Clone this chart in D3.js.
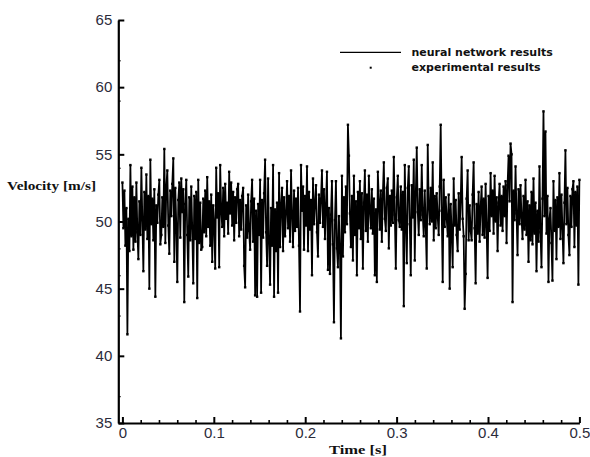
<!DOCTYPE html>
<html><head><meta charset="utf-8">
<script src="https://cdn.jsdelivr.net/npm/d3@7"></script>
<style>html,body{margin:0;padding:0;background:#fff;} svg{display:block;}</style>
</head><body>
<svg id="c" width="590" height="457"></svg>
<script>
// Velocity samples [m/s], evenly spaced over 0..0.5 s
const velocity = [
52.9,49.5,52.3,48.2,51.0,41.6,50.2,47.8,54.2,48.9,
52.6,47.9,51.8,48.5,52.9,49.2,47.2,51.5,49.0,54.0,
50.1,46.3,52.2,49.4,53.5,48.7,51.9,45.0,54.6,49.8,
51.7,48.6,52.4,44.4,51.2,49.9,52.0,53.1,48.3,49.0,
51.8,49.6,55.4,48.4,52.6,53.8,49.7,47.6,52.3,50.4,
52.8,54.7,47.0,52.5,49.8,45.5,51.6,52.9,48.8,53.2,
50.7,52.4,44.0,51.3,53.1,49.0,45.9,51.8,48.6,52.6,
49.5,45.4,51.9,48.7,52.2,44.3,53.1,48.4,51.4,47.9,
48.1,51.7,49.2,52.3,48.9,53.3,49.6,51.5,48.2,52.0,
47.0,51.2,49.8,46.5,54.0,50.3,52.1,46.6,54.2,50.9,
49.6,52.5,48.9,52.8,50.2,51.4,49.1,53.7,50.6,52.9,
49.7,52.2,48.6,51.8,49.9,52.4,52.8,48.9,51.6,49.4,
51.9,52.5,46.7,45.1,51.2,48.8,52.0,49.3,47.9,51.5,
53.1,48.5,51.7,44.5,50.8,44.4,51.3,49.0,53.1,44.7,
51.6,48.8,52.1,54.6,49.2,46.7,53.2,48.4,45.3,51.0,
48.2,54.2,44.4,50.9,47.8,51.4,44.7,53.6,48.1,51.2,
52.5,47.8,51.8,48.9,50.6,53.0,49.5,51.9,48.5,53.8,
50.4,48.1,52.3,49.3,51.7,49.6,52.5,48.2,43.3,54.2,
50.8,52.6,47.9,51.9,49.7,54.1,47.8,52.2,49.4,51.6,
46.0,53.2,49.8,51.4,52.7,49.2,47.4,52.0,49.9,51.7,
53.8,49.6,52.4,48.7,51.3,53.7,46.4,51.0,46.1,50.5,
53.0,48.3,42.5,50.1,53.0,48.0,46.6,50.4,47.9,41.3,
53.4,47.4,51.8,49.2,52.6,49.8,57.2,54.9,50.6,48.1,
51.9,47.1,53.4,49.0,51.5,46.0,52.2,49.5,53.0,48.7,
52.1,46.5,51.4,53.8,49.3,52.0,48.5,53.4,50.8,49.5,
52.4,49.1,51.7,46.0,50.9,45.5,53.7,51.6,49.4,52.3,
48.5,52.0,54.4,50.2,49.3,52.5,53.2,48.0,51.9,49.7,
52.3,49.9,54.8,50.5,46.5,51.8,53.4,50.1,49.6,52.6,
49.4,52.2,43.7,54.2,50.0,46.9,52.5,54.1,49.8,46.0,
52.7,50.3,54.6,47.1,52.0,55.5,50.7,49.0,52.4,50.1,
54.2,50.5,48.9,52.3,49.6,46.5,55.7,51.2,49.8,52.5,
50.0,54.4,48.6,51.9,49.5,52.1,50.3,49.0,52.6,57.2,
50.8,45.5,53.1,49.6,51.8,50.2,48.9,52.0,45.0,51.3,
49.2,46.6,53.2,49.7,51.6,49.0,47.8,52.1,49.4,51.5,
54.8,50.2,48.9,43.5,46.1,51.7,53.8,48.6,51.2,49.3,
48.6,52.0,54.4,49.5,45.4,51.3,49.1,52.2,48.5,51.1,
52.6,49.0,51.7,48.8,52.8,49.6,45.8,51.9,49.3,53.6,
50.4,52.3,49.1,53.4,50.0,51.8,47.8,51.4,52.8,49.7,
51.9,49.3,52.6,50.4,53.0,48.4,52.7,54.9,51.5,55.8,
55.0,44.0,52.3,50.1,54.1,50.6,47.5,52.4,49.8,52.7,
50.3,48.7,51.9,49.4,53.1,49.0,51.5,47.0,51.2,48.6,
52.2,48.3,53.2,49.1,51.4,46.3,50.8,48.5,54.1,49.2,
46.6,51.7,58.2,50.4,56.7,49.1,51.9,45.5,50.2,51.0,
48.4,45.6,53.0,49.3,51.6,47.2,51.8,49.6,53.6,48.7,
52.0,49.5,46.9,51.4,55.3,49.8,52.5,49.0,47.5,51.9,
49.6,52.4,53.0,48.1,52.2,49.7,52.6,45.3,53.1
];
const timeEnd = 0.5;                       // s, last sample
const xTicks = [0, 0.1, 0.2, 0.3, 0.4, 0.5];
const xTickLabels = ["0", "0.1", "0.2", "0.3", "0.4", "0.5"];
const xMinorTicks = [0.02,0.04,0.06,0.08,0.12,0.14,0.16,0.18,0.22,0.24,0.26,0.28,0.32,0.34,0.36,0.38,0.42,0.44,0.46,0.48];
const yTicks = [35, 40, 45, 50, 55, 60, 65];
const yMinorTicks = [37,43,46,48,54,59,62];
const legendLabels = ["neural network results", "experimental results"];
const xTitle = "Time [s]";
const yTitle = "Velocity [m/s]";

const n = velocity.length;
const data = velocity.map((v, i) => ({t: i * timeEnd / (n - 1), v}));

const svg = d3.select("#c");
const x = d3.scaleLinear().domain([-0.0045, 0.5]).range([118.3, 579.4]);
const y = d3.scaleLinear().domain([35, 65]).range([423, 20]);

// data line
svg.append("path")
  .datum(data)
  .attr("fill", "none")
  .attr("stroke", "#000")
  .attr("stroke-width", 1.75)
  .attr("stroke-linejoin", "miter")
  .attr("d", d3.line().x(d => x(d.t)).y(d => y(d.v)));

// experimental points
svg.append("g").selectAll("rect").data(data).join("rect")
  .attr("x", d => x(d.t) - 1.2).attr("y", d => y(d.v) - 1.2)
  .attr("width", 2.4).attr("height", 2.4).attr("fill", "#000");

const tickFont = "'Liberation Sans', Arial, sans-serif";

// minor ticks
svg.append("g").attr("transform", `translate(0,${y(35)})`)
  .call(d3.axisBottom(x).tickValues(xMinorTicks).tickSize(-3).tickFormat(""))
  .call(g => g.select(".domain").remove())
  .call(g => g.selectAll("line").attr("stroke", "#000").attr("stroke-width", 1.6));
svg.append("g").attr("transform", `translate(${x(-0.0045)},0)`)
  .call(d3.axisLeft(y).tickValues(yMinorTicks).tickSize(-2.5).tickFormat(""))
  .call(g => g.select(".domain").remove())
  .call(g => g.selectAll("line").attr("stroke", "#333").attr("stroke-width", 1.2));

// major axes
const xAxis = svg.append("g").attr("transform", `translate(0,${y(35)})`)
  .call(d3.axisBottom(x).tickValues(xTicks).tickSize(-6).tickSizeOuter(0).tickPadding(4)
    .tickFormat((d, i) => xTickLabels[i]));
const yAxis = svg.append("g").attr("transform", `translate(${x(-0.0045)},0)`)
  .call(d3.axisLeft(y).tickValues(yTicks).tickSize(-6).tickSizeOuter(0).tickPadding(6));
[xAxis, yAxis].forEach(g => {
  g.select(".domain").attr("stroke", "#000").attr("stroke-width", 2.2);
  g.selectAll(".tick line").attr("stroke", "#000").attr("stroke-width", 2);
  g.selectAll(".tick text").attr("fill", "#2b2b3a").style("font-family", tickFont).style("font-size", "15px");
});

// axis titles
svg.append("text").attr("x", 7).attr("y", 189.5)
  .attr("textLength", 89).attr("lengthAdjust", "spacingAndGlyphs")
  .style("font-family", "'Liberation Serif', 'Times New Roman', serif")
  .style("font-weight", "bold").style("font-size", "13px").attr("fill", "#111")
  .text(yTitle);
svg.append("text").attr("x", 329).attr("y", 454)
  .attr("textLength", 58).attr("lengthAdjust", "spacingAndGlyphs")
  .style("font-family", "'Liberation Serif', 'Times New Roman', serif")
  .style("font-weight", "bold").style("font-size", "13px").attr("fill", "#111")
  .text(xTitle);

// legend
const lg = svg.append("g");
lg.append("line").attr("x1", 340).attr("x2", 401).attr("y1", 52.3).attr("y2", 52.3)
  .attr("stroke", "#000").attr("stroke-width", 1.3);
lg.append("rect").attr("x", 369.7).attr("y", 66.7).attr("width", 2).attr("height", 2).attr("fill", "#000");
legendLabels.forEach((s, i) => {
  lg.append("text").attr("x", 411.5).attr("y", 56 + i * 15)
    .style("font-family", "'DejaVu Sans', Verdana, sans-serif").style("font-weight", "bold")
    .style("font-size", "11px").attr("fill", "#111").text(s);
});
</script>
</body></html>
